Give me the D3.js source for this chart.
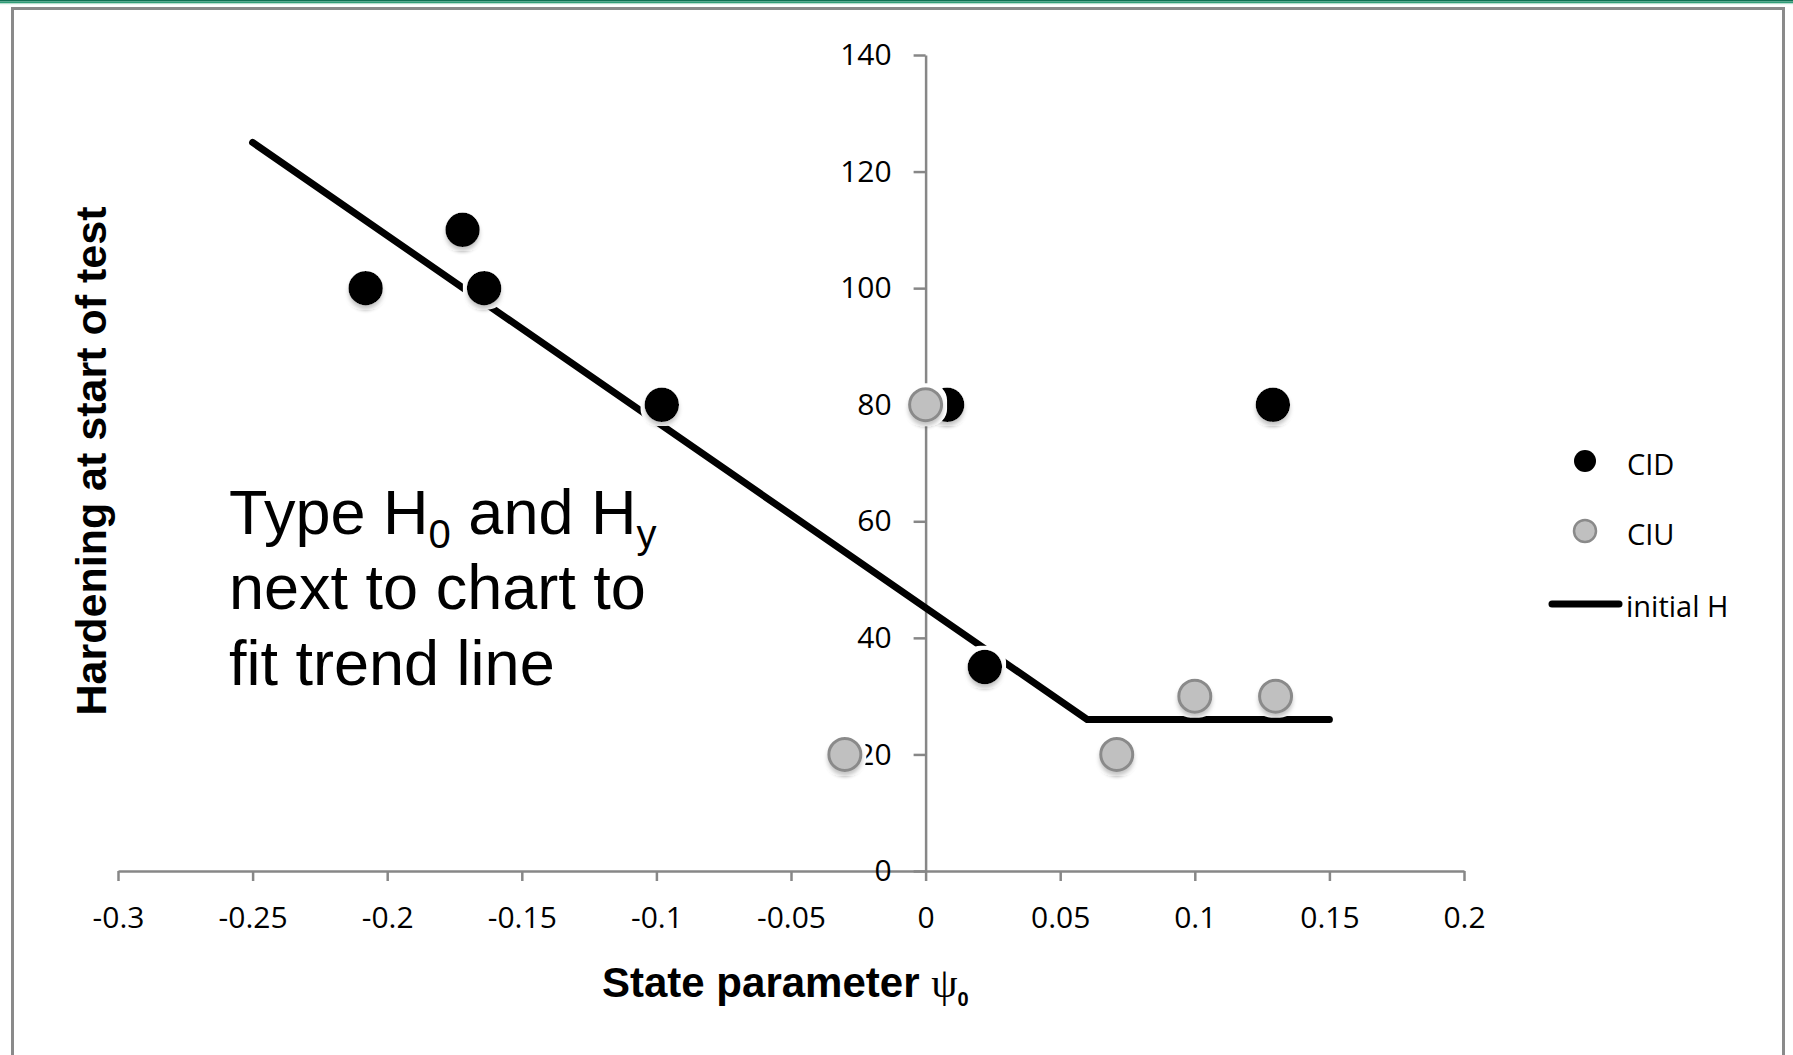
<!DOCTYPE html>
<html>
<head>
<meta charset="utf-8">
<script src="https://cdn.jsdelivr.net/npm/d3@7"></script>
<style>
  body { margin: 0; background: #fff; }
  svg { display: block; }
</style>
</head>
<body>
<div id="chart"></div>
<script>
// CID points (drained), psi0 / H
var cidPsi = [-0.208, -0.172, -0.164, -0.098, 0.008, 0.022, 0.129];
var cidH = [100, 110, 100, 80, 80, 35, 80];
// CIU points (undrained)
var ciuPsi = [-0.030, 0.000, 0.071, 0.100, 0.130];
var ciuH = [20, 80, 20, 30, 30];
// initial H trend line
var linePsi = [-0.25, 0.06, 0.15];
var lineH = [125, 26, 26];

var xTicks = [-0.3, -0.25, -0.2, -0.15, -0.1, -0.05, 0, 0.05, 0.1, 0.15, 0.2];
var yTicks = [0, 20, 40, 60, 80, 100, 120, 140];
var legendLabels = ["CID", "CIU", "initial H"];

var W = 1793, H = 1055;
var axisCol = "#878787";
var tickFont = "'Open Sans', 'Noto Sans', sans-serif";

var svg = d3.select("#chart").append("svg").attr("width", W).attr("height", H);

/** shadow + white halo round the markers */
var defs = svg.append("defs");
var f = defs.append("filter").attr("id", "halo")
  .attr("x", "-60%").attr("y", "-60%").attr("width", "220%").attr("height", "220%");
f.append("feMorphology").attr("in", "SourceAlpha").attr("operator", "dilate").attr("radius", 4).attr("result", "dil");
f.append("feFlood").attr("flood-color", "#fff").attr("result", "white");
f.append("feComposite").attr("in", "white").attr("in2", "dil").attr("operator", "in").attr("result", "ring");
f.append("feGaussianBlur").attr("in", "SourceAlpha").attr("stdDeviation", 2).attr("result", "blur");
f.append("feOffset").attr("in", "blur").attr("dy", 4).attr("result", "off");
f.append("feComponentTransfer").attr("in", "off").attr("result", "shadow")
  .append("feFuncA").attr("type", "linear").attr("slope", 0.45);
var merge = f.append("feMerge");
merge.append("feMergeNode").attr("in", "ring");
merge.append("feMergeNode").attr("in", "shadow");
merge.append("feMergeNode").attr("in", "SourceGraphic");

// page decoration: green strip and grey frame
svg.append("rect").attr("x", 0).attr("y", 0).attr("width", W).attr("height", 1.5).attr("fill", "#0f6f52");
svg.append("rect").attr("x", 0).attr("y", 1.5).attr("width", W).attr("height", 1.5).attr("fill", "#2f9c77");
svg.append("rect").attr("x", 0).attr("y", 3).attr("width", W).attr("height", 1.2).attr("fill", "#b5ddcc");
svg.append("path")
  .attr("d", "M12.5," + H + "V8.5H1783.5V" + H)
  .attr("fill", "none").attr("stroke", "#8a8a8a").attr("stroke-width", 3);

var x = d3.scaleLinear().domain([-0.3, 0.2]).range([118, 1464]);
var y = d3.scaleLinear().domain([0, 140]).range([871, 55]);

// x axis
var gx = svg.append("g").attr("transform", "translate(0," + y(0) + ")")
  .call(d3.axisBottom(x).tickValues(xTicks).tickSize(10).tickSizeOuter(0)
    .tickFormat(function (d) { return String(+d.toFixed(2)); }));
gx.selectAll("text").attr("y", 46).attr("dy", "0.36em");

// y axis sits at psi = 0
var gy = svg.append("g").attr("transform", "translate(" + x(0) + ",0)")
  .call(d3.axisLeft(y).tickValues(yTicks).tickSize(12).tickSizeOuter(0).tickPadding(22));

[gx, gy].forEach(function (g) {
  g.select(".domain").attr("stroke", axisCol).attr("stroke-width", 2.5);
  g.selectAll(".tick line").attr("stroke", axisCol).attr("stroke-width", 2.5);
  g.selectAll("text").attr("fill", "#000").style("font-family", tickFont).style("font-size", "30px");
});

// trend line
var line = d3.line().x(function (d) { return x(d[0]); }).y(function (d) { return y(d[1]); });
svg.append("path")
  .datum(d3.zip(linePsi, lineH))
  .attr("d", line)
  .attr("fill", "none").attr("stroke", "#000").attr("stroke-width", 7)
  .attr("stroke-linecap", "round").attr("stroke-linejoin", "miter");

// markers
svg.append("g").selectAll("circle").data(d3.zip(cidPsi, cidH)).enter()
  .append("circle")
  .attr("cx", function (d) { return x(d[0]); })
  .attr("cy", function (d) { return y(d[1]); })
  .attr("r", 16).attr("fill", "#000").attr("stroke", "#000").attr("stroke-width", 2.5)
  .attr("filter", "url(#halo)");

svg.append("g").selectAll("circle").data(d3.zip(ciuPsi, ciuH)).enter()
  .append("circle")
  .attr("cx", function (d) { return x(d[0]); })
  .attr("cy", function (d) { return y(d[1]); })
  .attr("r", 16).attr("fill", "#c0c0c0").attr("stroke", "#8a8a8a").attr("stroke-width", 3)
  .attr("filter", "url(#halo)");

// axis titles
svg.append("text")
  .attr("transform", "translate(106,461) rotate(-90)")
  .attr("text-anchor", "middle")
  .style("font-family", "'Liberation Sans', Arial, sans-serif")
  .style("font-weight", "bold").style("font-size", "43px")
  .text("Hardening at start of test");

var xt = svg.append("text").attr("x", 602).attr("y", 997)
  .style("font-family", "'Liberation Sans', Arial, sans-serif")
  .style("font-weight", "bold").style("font-size", "42px");
xt.append("tspan").text("State parameter ");
xt.append("tspan").style("font-family", "'Liberation Serif', serif").style("font-weight", "normal").text("\u03c8");
xt.append("tspan").attr("dy", 9).style("font-size", "20px").text("0");

// note text
var note = svg.append("g")
  .style("font-family", "'Liberation Sans', Arial, sans-serif").style("font-size", "63px");
var l1 = note.append("text").attr("x", 229).attr("y", 534);
l1.append("tspan").text("Type H");
l1.append("tspan").attr("dy", 14).style("font-size", "40px").text("0");
l1.append("tspan").attr("dy", -14).text(" and H");
l1.append("tspan").attr("dy", 14).style("font-size", "40px").text("y");
note.append("text").attr("x", 229).attr("y", 609).text("next to chart to");
note.append("text").attr("x", 229).attr("y", 685).text("fit trend line");

// legend
var lg = svg.append("g").style("font-family", tickFont).style("font-size", "29px");
lg.append("circle").attr("cx", 1585).attr("cy", 461).attr("r", 11).attr("fill", "#000");
lg.append("circle").attr("cx", 1585).attr("cy", 531).attr("r", 11)
  .attr("fill", "#c0c0c0").attr("stroke", "#8a8a8a").attr("stroke-width", 2.5);
lg.append("line").attr("x1", 1552).attr("x2", 1619).attr("y1", 604).attr("y2", 604)
  .attr("stroke", "#000").attr("stroke-width", 7).attr("stroke-linecap", "round");
lg.selectAll("text.lbl").data(legendLabels).enter().append("text")
  .attr("class", "lbl")
  .attr("x", function (d, i) { return i < 2 ? 1627 : 1626; })
  .attr("y", function (d, i) { return [475, 545, 617][i]; })
  .text(function (d) { return d; });
</script>
</body>
</html>
